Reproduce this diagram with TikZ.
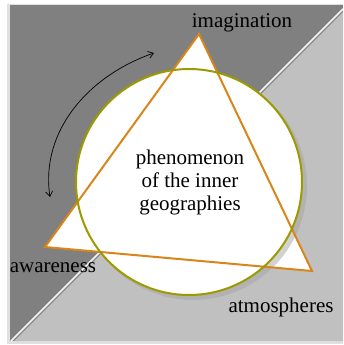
\documentclass[tikz,border=0pt]{standalone}
\usepackage{fontspec}
\setmainfont{Liberation Serif}
\usetikzlibrary{arrows.meta,calc}
\definecolor{darkbg}{HTML}{808080}
\definecolor{lightbg}{HTML}{C0C0C0}
\definecolor{triorange}{HTML}{D8861A}
\definecolor{circolive}{HTML}{9C9A00}
\tikzset{
  lbl/.style={font=\fontsize{21}{23}\selectfont, inner sep=0pt, text=black},
  tri/.style={draw=triorange, line width=2pt, line join=miter, fill=white},
  circ/.style={draw=circolive, line width=2pt, fill=white},
  cyc/.style={black, line width=0.7pt, {Straight Barb[length=5pt,width=7pt]}-{Straight Barb[length=5pt,width=7pt]}}
}
\begin{document}
\begin{tikzpicture}[x=1pt,y=-1pt]
\useasboundingbox (0,0) rectangle (343,345);
% shadow of square
\fill[black!12] (7,4) rectangle (343,344);
% backgrounds
\fill[darkbg] (10,5) rectangle (343,341);
\fill[lightbg] (14,341) -- (343,12) -- (343,341) -- cycle;
\draw[white!85!lightbg, line width=1.6pt] (11,341) -- (343,9);
% coordinates
\coordinate (I) at (199,34);
\coordinate (A) at (45,247);
\coordinate (T) at (312,271);
\coordinate (C) at (189,182);
\coordinate (Cs) at (193,186);
\coordinate (arS) at (154,53);
\coordinate (arE) at (50,197);
% fills
\fill[white] (I) -- (A) -- (T) -- cycle;
\fill[black!35, opacity=0.5] (Cs) circle (114);
\fill[white] (C) circle (113);
% outlines
\draw[tri, fill=none] (I) -- (A) -- (T) -- cycle;
\draw[circ, fill=none] (C) circle (113);
% cycle arrow
\draw[cyc] (arS) .. controls (90,75) and (40,130) .. (arE);
% labels
\node[lbl, anchor=base] (imag) at (242,28) {imagination};
\node[lbl, anchor=base] (aware) at (53,272) {awareness};
\node[lbl, anchor=base] (atmo) at (281,312) {atmospheres};
\node[lbl, align=center] (phen) at (190,182) {phenomenon\\of the inner\\geographies};
\end{tikzpicture}
\end{document}
